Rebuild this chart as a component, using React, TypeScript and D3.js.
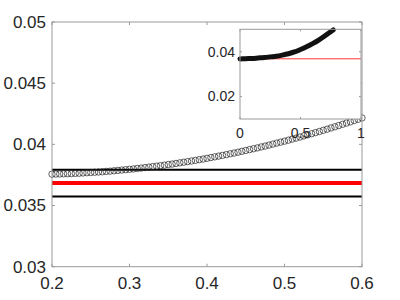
import React, {useEffect, useRef} from "react";
import * as d3 from "d3";

// main panel: circle markers of the curve
const xs = d3.range(81).map((i) => 0.2 + i * 0.005);
const curveValues = [
	0.03756, 0.03757, 0.03758, 0.03759, 0.0376, 0.03761, 0.03763, 0.03764, 0.03766, 0.03768,
	0.0377, 0.03772, 0.03774, 0.03776, 0.03779, 0.03781, 0.03784, 0.03787, 0.0379, 0.03793,
	0.03796, 0.03799, 0.03803, 0.03806, 0.0381, 0.03814, 0.03818, 0.03822, 0.03826, 0.0383,
	0.03835, 0.03839, 0.03844, 0.03849, 0.03854, 0.03859, 0.03864, 0.03869, 0.03875, 0.0388,
	0.03886, 0.03892, 0.03898, 0.03904, 0.0391, 0.03916, 0.03923, 0.03929, 0.03936, 0.03943,
	0.0395, 0.03957, 0.03964, 0.03971, 0.03979, 0.03986, 0.03994, 0.04002, 0.0401, 0.04018,
	0.04026, 0.04034, 0.04043, 0.04051, 0.0406, 0.04069, 0.04078, 0.04087, 0.04096, 0.04105,
	0.04115, 0.04124, 0.04134, 0.04144, 0.04154, 0.04164, 0.04174, 0.04184, 0.04195, 0.04205,
	0.04216,
];
const upperBound = 0.03793;
const meanLevel = 0.03684;
const lowerBound = 0.03574;

const xTicks = [0.2, 0.3, 0.4, 0.5, 0.6];
const yTicks = [0.03, 0.035, 0.04, 0.045, 0.05];

// inset: whole curve over [0, 1]
const insetX = [0, 0.05, 0.1, 0.15, 0.2, 0.25, 0.3, 0.35, 0.4, 0.45, 0.5, 0.55, 0.6, 0.65, 0.7, 0.74, 0.77];
const insetY = [
	0.0368, 0.0369, 0.037, 0.0372, 0.0374, 0.0377, 0.038, 0.0385, 0.0391, 0.0399, 0.041, 0.0422,
	0.0436, 0.0452, 0.047, 0.0486, 0.0497,
];
const insetXTicks = [0, 0.5, 1];
const insetYTicks = [0.02, 0.04];

const AXIS = "#9a9a9a";
const TEXT = "#262626";
const FONT = "'Liberation Sans', Arial, sans-serif";

const App: React.FC = () => {
	const svgRef = useRef<SVGSVGElement>(null);

	useEffect(() => {
		const svg = d3.select(svgRef.current);
		svg.selectAll("*").remove();

		const m = {left: 52, right: 362, top: 22, bottom: 266.7};
		const x = d3.scaleLinear().domain([0.2, 0.6]).range([m.left, m.right]);
		const y = d3.scaleLinear().domain([0.03, 0.05]).range([m.bottom, m.top]);

		const main = svg.append("g");

		svg
			.append("clipPath")
			.attr("id", "mainClip")
			.append("rect")
			.attr("x", m.left)
			.attr("y", m.top)
			.attr("width", m.right - m.left)
			.attr("height", m.bottom - m.top);

		// horizontal reference lines
		const hl = main.append("g").attr("clip-path", "url(#mainClip)");
		[
			{v: upperBound, c: "#000", w: 2},
			{v: lowerBound, c: "#000", w: 2},
			{v: meanLevel, c: "#ff0000", w: 4},
		].forEach((d) => {
			hl.append("line")
				.attr("x1", m.left)
				.attr("x2", m.right)
				.attr("y1", y(d.v))
				.attr("y2", y(d.v))
				.attr("stroke", d.c)
				.attr("stroke-width", d.w);
		});

		// circles
		main
			.append("g")
			.selectAll("circle")
			.data(curveValues)
			.enter()
			.append("circle")
			.attr("cx", (d, i) => x(xs[i]))
			.attr("cy", (d) => y(d))
			.attr("r", 3.2)
			.attr("fill", "none")
			.attr("stroke", "#222")
			.attr("stroke-width", 0.7);

		// box + inner ticks
		main
			.append("rect")
			.attr("x", m.left)
			.attr("y", m.top)
			.attr("width", m.right - m.left)
			.attr("height", m.bottom - m.top)
			.attr("fill", "none")
			.attr("stroke", AXIS)
			.attr("stroke-width", 1);

		xTicks.forEach((t) => {
			[
				[m.bottom, m.bottom - 3],
				[m.top, m.top + 3],
			].forEach(([a, b]) =>
				main.append("line").attr("x1", x(t)).attr("x2", x(t)).attr("y1", a).attr("y2", b).attr("stroke", AXIS)
			);
			main
				.append("text")
				.attr("x", x(t))
				.attr("y", 289)
				.attr("text-anchor", "middle")
				.style("font-family", FONT)
				.style("font-size", "17px")
				.style("fill", TEXT)
				.text(d3.format("")(t));
		});

		yTicks.forEach((t) => {
			[
				[m.left, m.left + 3],
				[m.right, m.right - 3],
			].forEach(([a, b]) =>
				main.append("line").attr("x1", a).attr("x2", b).attr("y1", y(t)).attr("y2", y(t)).attr("stroke", AXIS)
			);
			main
				.append("text")
				.attr("x", m.left - 6)
				.attr("y", y(t))
				.attr("dy", "0.35em")
				.attr("text-anchor", "end")
				.style("font-family", FONT)
				.style("font-size", "17px")
				.style("fill", TEXT)
				.text(d3.format("")(t));
		});

		// inset
		const n = {left: 240, right: 361, top: 29.3, bottom: 119};
		const ix = d3.scaleLinear().domain([0, 1]).range([n.left, n.right]);
		const iy = d3.scaleLinear().domain([0.01, 0.05]).range([n.bottom, n.top]);
		const inset = svg.append("g");

		inset
			.append("rect")
			.attr("x", n.left)
			.attr("y", n.top)
			.attr("width", n.right - n.left)
			.attr("height", n.bottom - n.top)
			.attr("fill", "#fff");

		inset
			.append("line")
			.attr("x1", ix(0))
			.attr("x2", ix(1))
			.attr("y1", iy(meanLevel))
			.attr("y2", iy(meanLevel))
			.attr("stroke", "#ff0000")
			.attr("stroke-width", 0.8);

		const line = d3
			.line<number>()
			.x((d, i) => ix(insetX[i]))
			.y((d) => iy(d))
			.curve(d3.curveMonotoneX);

		inset
			.append("path")
			.datum(insetY)
			.attr("fill", "none")
			.attr("stroke", "#111")
			.attr("stroke-width", 5)
			.attr("stroke-linecap", "round")
			.attr("d", line);

		inset
			.append("rect")
			.attr("x", n.left)
			.attr("y", n.top)
			.attr("width", n.right - n.left)
			.attr("height", n.bottom - n.top)
			.attr("fill", "none")
			.attr("stroke", AXIS)
			.attr("stroke-width", 1);

		insetXTicks.forEach((t) => {
			[
				[n.bottom, n.bottom - 2],
				[n.top, n.top + 2],
			].forEach(([a, b]) =>
				inset.append("line").attr("x1", ix(t)).attr("x2", ix(t)).attr("y1", a).attr("y2", b).attr("stroke", AXIS)
			);
			inset
				.append("text")
				.attr("x", ix(t))
				.attr("y", 138)
				.attr("text-anchor", "middle")
				.style("font-family", FONT)
				.style("font-size", "14px")
				.style("fill", TEXT)
				.text(d3.format("")(t));
		});

		insetYTicks.forEach((t) => {
			[
				[n.left, n.left + 2],
				[n.right, n.right - 2],
			].forEach(([a, b]) =>
				inset.append("line").attr("x1", a).attr("x2", b).attr("y1", iy(t)).attr("y2", iy(t)).attr("stroke", AXIS)
			);
			inset
				.append("text")
				.attr("x", n.left - 5)
				.attr("y", iy(t))
				.attr("dy", "0.35em")
				.attr("text-anchor", "end")
				.style("font-family", FONT)
				.style("font-size", "14px")
				.style("fill", TEXT)
				.text(d3.format("")(t));
		});
	}, []);

	return (
		<svg
			ref={svgRef}
			width={400}
			height={300}
			style={{position: "absolute", left: 0, top: 0, background: "#fff"}}
		/>
	);
};

export default App;
